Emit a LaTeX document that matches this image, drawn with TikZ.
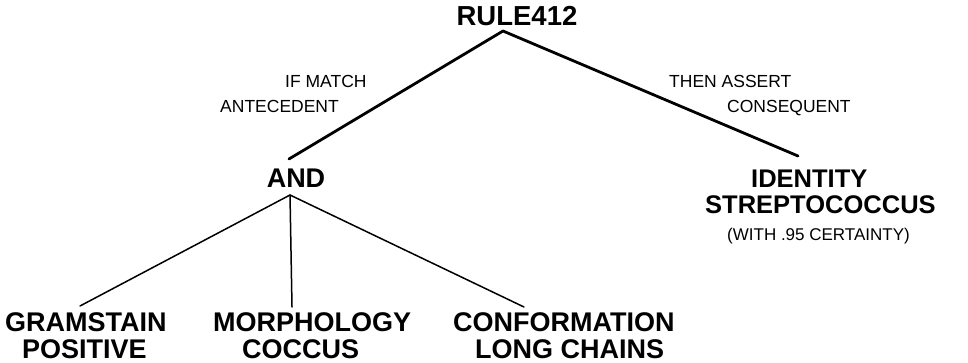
\documentclass[tikz,border=0pt]{standalone}
\usepackage{fontspec}
\setmainfont{Liberation Sans}
\begin{document}
\begin{tikzpicture}[x=1pt,y=1pt,
  big/.style={inner sep=0pt,anchor=base west,align=left,font=\fontsize{27}{27}\selectfont\bfseries},
  small/.style={inner sep=0pt,anchor=base west,align=left,font=\fontsize{17.5}{25}\selectfont},
  thick line/.style={line width=2.8pt,line cap=round,line join=round},
  thin line/.style={line width=1.5pt,line cap=round}]
\useasboundingbox (0,0) rectangle (968,362);
% nodes
\node[big,anchor=base,font=\fontsize{27.5}{27}\selectfont\bfseries] (rule) at (517,336) {RULE412};
\node[big,anchor=base] (and) at (296,175) {AND};
\node[big] (gram) at (5,3.2) {GRAMSTAIN\\\hspace*{17pt}POSITIVE};
\node[big] (morph) at (213,3.2) {MORPHOLOGY\\\hspace*{29pt}COCCUS};
\node[big] (conf) at (453,3.2) {CONFORMATION\\\hspace*{22pt}LONG CHAINS};
\node[big,font=\fontsize{25.5}{26}\selectfont\bfseries] (ident) at (705,149) {\hspace*{46pt}IDENTITY\\STREPTOCOCCUS};
\node[inner sep=0pt,anchor=base west,font=\fontsize{17}{17}\selectfont] (cert) at (727,122) {(WITH .95 CERTAINTY)};
\node[small] (ifm) at (220,249) {\hspace*{65pt}IF MATCH\\ANTECEDENT};
\node[small] (then) at (669,249) {THEN ASSERT\\\hspace*{58pt}CONSEQUENT};
% connector end points
\coordinate (rtop) at (503,331);
\coordinate (andtop) at (289,203);
\coordinate (idtop) at (798,206);
\coordinate (andbot) at (290,167);
\coordinate (gtop) at (80,56);
\coordinate (mtop) at (292,55);
\coordinate (ctop) at (524,55);
% connectors
\draw[thick line] (andtop) -- (rtop) -- (idtop);
\draw[thin line] (andbot) -- (gtop);
\draw[thin line] (andbot) -- (mtop);
\draw[thin line] (andbot) -- (ctop);
\end{tikzpicture}
\end{document}
